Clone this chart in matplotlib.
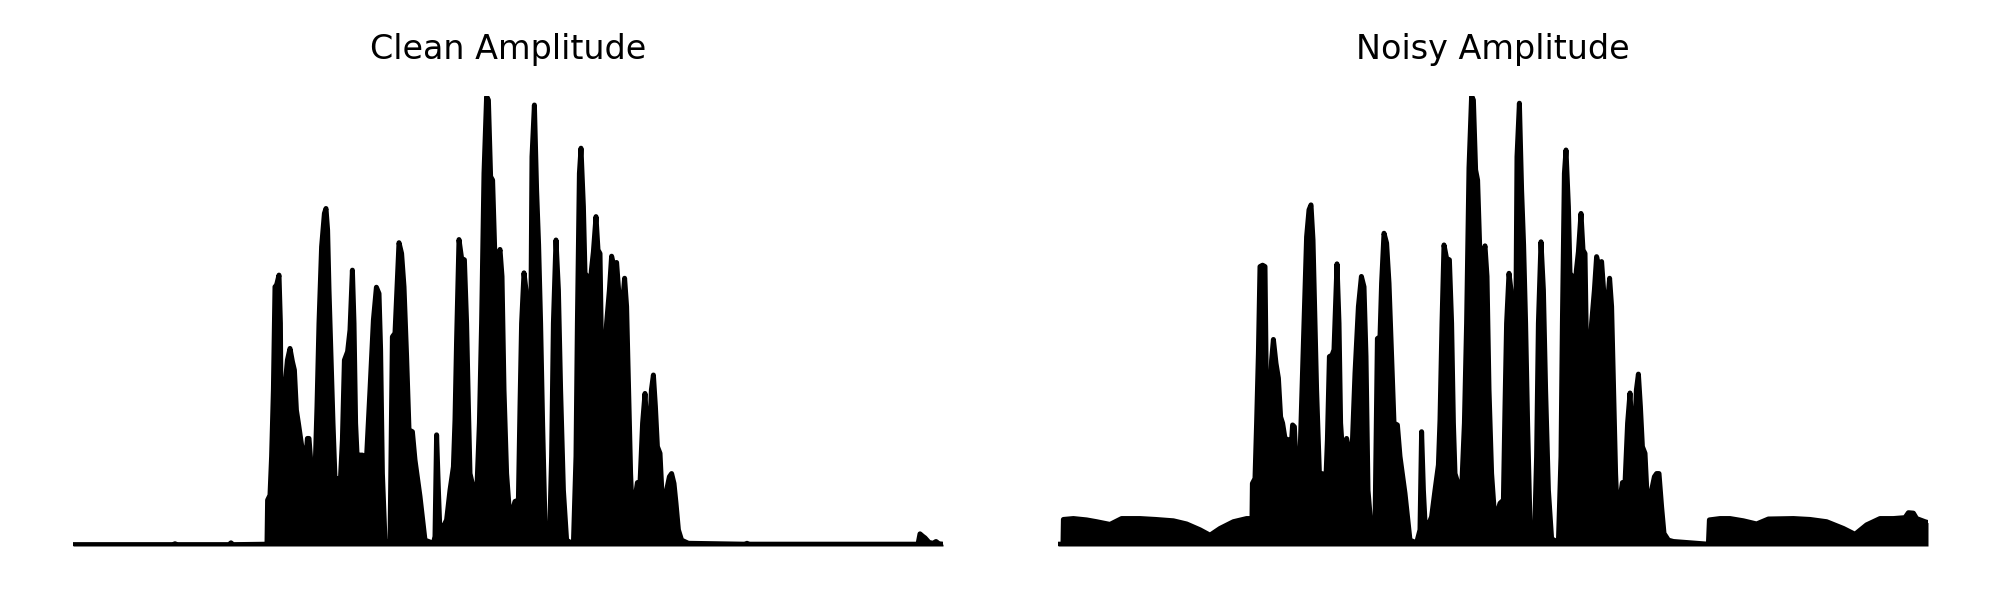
import matplotlib.pyplot as plt

# Envelope of the clean signal: time (s) and normalised amplitude
clean_time = [0.000, 0.500, 0.510, 0.520, 0.780, 0.790, 0.800, 0.970,
              0.973, 0.985, 0.993, 1.002, 1.010, 1.018, 1.030, 1.037, 1.043, 1.057, 1.063, 1.072,
              1.085, 1.097, 1.107, 1.117, 1.127, 1.143, 1.157, 1.165, 1.172, 1.180, 1.187, 1.197,
              1.210, 1.220, 1.230, 1.243, 1.257, 1.265, 1.273, 1.280, 1.290, 1.300, 1.310, 1.323,
              1.337, 1.347, 1.357, 1.373, 1.385, 1.397, 1.405, 1.413, 1.423, 1.435, 1.447, 1.457,
              1.468, 1.485, 1.502, 1.517, 1.530, 1.538, 1.547, 1.560, 1.585, 1.597, 1.610, 1.618,
              1.630, 1.643, 1.655, 1.668, 1.680, 1.697, 1.710, 1.735, 1.760, 1.802, 1.810, 1.818,
              1.827, 1.835, 1.852, 1.868, 1.885, 1.902, 1.910, 1.918, 1.930, 1.943, 1.957, 1.968,
              1.977, 1.985, 2.002, 2.018, 2.032, 2.043, 2.055, 2.068, 2.077, 2.088, 2.098, 2.110,
              2.122, 2.135, 2.145, 2.155, 2.168, 2.182, 2.198, 2.210, 2.227, 2.235, 2.243, 2.255,
              2.265, 2.272, 2.282, 2.288, 2.295, 2.307, 2.318, 2.328, 2.338, 2.348, 2.360, 2.382,
              2.393, 2.402, 2.415, 2.427, 2.438, 2.452, 2.468, 2.502, 2.515, 2.522, 2.532, 2.540,
              2.552, 2.560, 2.572, 2.582, 2.592, 2.602, 2.615, 2.625, 2.635, 2.643, 2.652, 2.668,
              2.682, 2.693, 2.705, 2.718, 2.728, 2.738, 2.748, 2.758, 2.768, 2.778, 2.788, 2.802,
              2.812, 2.822, 2.835, 2.848, 2.860, 2.868, 2.882, 2.892, 2.902, 2.912, 2.922, 2.935,
              2.948, 2.960, 2.968, 2.982, 2.993, 3.005, 3.015, 3.027, 3.043, 3.077, 3.360, 3.370,
              3.380, 4.225, 4.235, 4.248, 4.260, 4.280, 4.300, 4.315, 4.330, 4.350]
clean_amp = [0.003, 0.003, 0.005, 0.003, 0.003, 0.007, 0.003, 0.004,
             0.102, 0.113, 0.199, 0.347, 0.576, 0.580, 0.602, 0.495, 0.139, 0.139, 0.369, 0.413,
             0.439, 0.410, 0.391, 0.302, 0.273, 0.224, 0.199, 0.199, 0.239, 0.239, 0.199, 0.102,
             0.161, 0.310, 0.495, 0.665, 0.739, 0.750, 0.702, 0.569, 0.421, 0.273, 0.150, 0.150,
             0.147, 0.236, 0.413, 0.432, 0.480, 0.613, 0.495, 0.273, 0.176, 0.202, 0.202, 0.176,
             0.199, 0.347, 0.502, 0.575, 0.561, 0.436, 0.161, 0.013, 0.004, 0.465, 0.473, 0.554,
             0.674, 0.650, 0.576, 0.421, 0.258, 0.254, 0.191, 0.110, 0.013, 0.006, 0.021, 0.247,
             0.124, 0.028, 0.043, 0.058, 0.124, 0.176, 0.280, 0.458, 0.681, 0.639, 0.636, 0.495,
             0.310, 0.161, 0.128, 0.110, 0.273, 0.495, 0.828, 0.999, 0.991, 0.821, 0.813, 0.636,
             0.632, 0.659, 0.599, 0.347, 0.161, 0.076, 0.080, 0.099, 0.102, 0.310, 0.495, 0.607,
             0.569, 0.458, 0.310, 0.421, 0.865, 0.980, 0.791, 0.669, 0.495, 0.273, 0.050, 0.006,
             0.199, 0.495, 0.680, 0.569, 0.347, 0.124, 0.013, 0.004, 0.199, 0.495, 0.828, 0.884,
             0.754, 0.606, 0.599, 0.554, 0.613, 0.654, 0.732, 0.658, 0.650, 0.421, 0.376, 0.495,
             0.569, 0.644, 0.621, 0.630, 0.569, 0.347, 0.539, 0.595, 0.532, 0.347, 0.161, 0.006,
             0.110, 0.141, 0.139, 0.273, 0.339, 0.273, 0.236, 0.347, 0.380, 0.310, 0.221, 0.206,
             0.087, 0.087, 0.124, 0.154, 0.161, 0.139, 0.095, 0.036, 0.013, 0.006, 0.004, 0.006,
             0.004, 0.004, 0.027, 0.022, 0.018, 0.008, 0.006, 0.010, 0.005, 0.004]

# Envelope of the noisy signal
noisy_time = [0.000, 0.025, 0.027, 0.077, 0.143, 0.193, 0.260, 0.318, 0.410, 0.488, 0.577,
              0.643, 0.710, 0.760, 0.810, 0.877, 0.943, 0.970,
              0.972, 0.985, 0.993, 1.002, 1.010, 1.023, 1.035, 1.040, 1.047, 1.057, 1.063, 1.068,
              1.077, 1.090, 1.102, 1.113, 1.123, 1.135, 1.152, 1.163, 1.173, 1.182, 1.190, 1.200,
              1.210, 1.220, 1.230, 1.243, 1.255, 1.265, 1.275, 1.283, 1.293, 1.307, 1.320, 1.330,
              1.340, 1.347, 1.357, 1.370, 1.380, 1.395, 1.405, 1.413, 1.423, 1.433, 1.443, 1.457,
              1.468, 1.485, 1.502, 1.517, 1.530, 1.540, 1.550, 1.563, 1.585, 1.597, 1.610, 1.618,
              1.630, 1.643, 1.655, 1.668, 1.680, 1.697, 1.710, 1.735, 1.760, 1.793, 1.810, 1.818,
              1.827, 1.837, 1.852, 1.868, 1.885, 1.902, 1.910, 1.920, 1.930, 1.943, 1.957, 1.968,
              1.977, 1.985, 2.002, 2.018, 2.032, 2.043, 2.055, 2.068, 2.077, 2.088, 2.098, 2.110,
              2.122, 2.135, 2.145, 2.155, 2.168, 2.182, 2.198, 2.210, 2.227, 2.235, 2.243, 2.255,
              2.265, 2.272, 2.282, 2.288, 2.295, 2.307, 2.318, 2.328, 2.338, 2.348, 2.360, 2.382,
              2.393, 2.402, 2.415, 2.427, 2.438, 2.452, 2.468, 2.502, 2.515, 2.522, 2.532, 2.540,
              2.552, 2.560, 2.572, 2.582, 2.592, 2.602, 2.615, 2.625, 2.635, 2.643, 2.652, 2.668,
              2.682, 2.693, 2.705, 2.718, 2.728, 2.738, 2.748, 2.758, 2.768, 2.778, 2.788, 2.802,
              2.812, 2.822, 2.835, 2.848, 2.860, 2.868, 2.882, 2.892, 2.902, 2.912, 2.922, 2.935,
              2.948, 2.960, 2.968, 2.982, 2.993, 3.005, 3.018, 3.030, 3.052, 3.077, 3.252, 3.257,
              3.310, 3.360, 3.427, 3.493, 3.552, 3.677, 3.760, 3.843, 3.927, 3.985, 4.043, 4.110,
              4.177, 4.235, 4.252, 4.277, 4.293, 4.335, 4.350]
noisy_amp = [0.004, 0.004, 0.059, 0.061, 0.058, 0.054, 0.048, 0.061, 0.061, 0.059, 0.056,
             0.049, 0.036, 0.024, 0.039, 0.054, 0.061, 0.061,
             0.139, 0.150, 0.273, 0.428, 0.621, 0.624, 0.621, 0.421, 0.169, 0.169, 0.361, 0.413,
             0.459, 0.406, 0.373, 0.287, 0.273, 0.239, 0.236, 0.199, 0.269, 0.265, 0.184, 0.110,
             0.199, 0.347, 0.495, 0.687, 0.747, 0.758, 0.680, 0.532, 0.347, 0.161, 0.161, 0.158,
             0.154, 0.236, 0.421, 0.424, 0.436, 0.627, 0.495, 0.273, 0.206, 0.199, 0.239, 0.206,
             0.184, 0.384, 0.532, 0.599, 0.576, 0.421, 0.124, 0.054, 0.043, 0.461, 0.465, 0.584,
             0.695, 0.673, 0.584, 0.421, 0.273, 0.269, 0.199, 0.117, 0.013, 0.007, 0.036, 0.254,
             0.124, 0.036, 0.047, 0.065, 0.124, 0.180, 0.280, 0.495, 0.669, 0.639, 0.636, 0.495,
             0.273, 0.161, 0.136, 0.124, 0.273, 0.495, 0.840, 1.000, 0.991, 0.836, 0.813, 0.643,
             0.640, 0.667, 0.599, 0.347, 0.161, 0.072, 0.076, 0.095, 0.102, 0.310, 0.495, 0.606,
             0.569, 0.458, 0.310, 0.421, 0.865, 0.984, 0.791, 0.669, 0.495, 0.273, 0.050, 0.010,
             0.199, 0.495, 0.676, 0.569, 0.347, 0.124, 0.016, 0.008, 0.199, 0.495, 0.828, 0.880,
             0.754, 0.606, 0.599, 0.554, 0.613, 0.654, 0.739, 0.658, 0.650, 0.421, 0.380, 0.495,
             0.569, 0.643, 0.621, 0.632, 0.569, 0.347, 0.539, 0.595, 0.532, 0.347, 0.161, 0.010,
             0.110, 0.141, 0.139, 0.273, 0.340, 0.273, 0.236, 0.347, 0.382, 0.310, 0.221, 0.206,
             0.087, 0.087, 0.124, 0.154, 0.161, 0.161, 0.087, 0.028, 0.013, 0.010, 0.004, 0.058,
             0.061, 0.061, 0.056, 0.049, 0.060, 0.061, 0.059, 0.054, 0.039, 0.026, 0.047, 0.061,
             0.061, 0.063, 0.074, 0.073, 0.061, 0.054, 0.052]

titles = ["Clean Amplitude", "Noisy Amplitude"]
duration = 4.35

fig = plt.figure(figsize=(10, 3), dpi=200)
ax1 = fig.add_axes([0.0365, 0.09, 0.435, 0.75])
ax2 = fig.add_axes([0.529, 0.09, 0.435, 0.75])

for ax, t, a, title in [(ax1, clean_time, clean_amp, titles[0]),
                        (ax2, noisy_time, noisy_amp, titles[1])]:
    ax.fill_between(t, 0, a, color="black", linewidth=0)
    ax.plot(t, a, color="black", linewidth=1.8,
            solid_capstyle="round", solid_joinstyle="round")
    # the dense low-level samples make the zero line look heavier
    ax.plot([t[0], t[-1]], [0, 0], color="black", linewidth=2.3,
            solid_capstyle="round")
    ax.set_xlim(0, duration)
    ax.set_ylim(0, 1.0)
    ax.set_title(title, fontsize=12, pad=13.5)
    ax.axis("off")

fig.savefig("out.png", dpi=200)
